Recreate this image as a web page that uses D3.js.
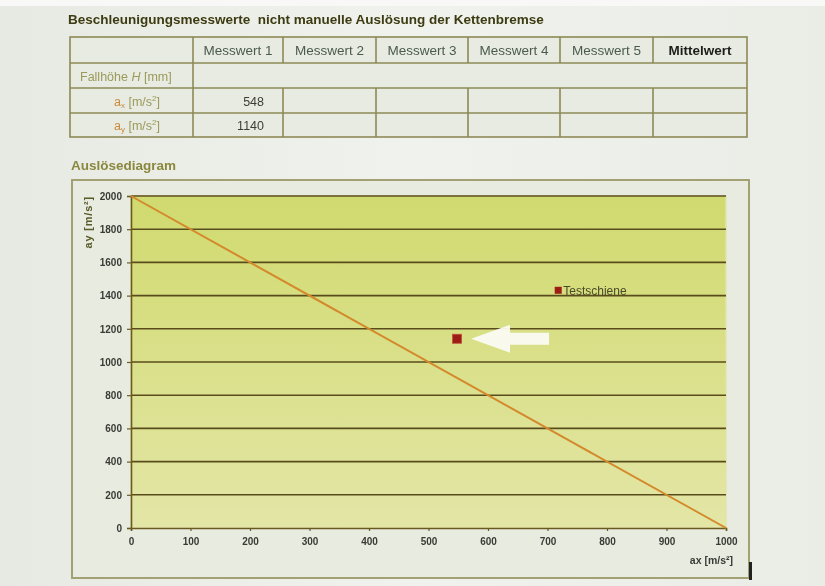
<!DOCTYPE html>
<html><head><meta charset="utf-8">
<script src="https://cdn.jsdelivr.net/npm/d3@7/dist/d3.min.js"></script>
<style>
html,body{margin:0;padding:0;background:#eef0ea;}
svg{display:block;font-family:"Liberation Sans",Arial,sans-serif;}
</style></head><body>
<script>
// ---- data ----
const pageTitle = "Beschleunigungsmesswerte  nicht manuelle Auslösung der Kettenbremse";
const chartTitle = "Auslösediagram";
const tableColumns = ["Messwert 1","Messwert 2","Messwert 3","Messwert 4","Messwert 5","Mittelwert"];
const rowLabels = ["Fallhöhe H [mm]","ax [m/s²]","ay [m/s²]"];
const axValues = [548, null, null, null, null, null];
const ayValues = [1140, null, null, null, null, null];
const xTicks = [0,100,200,300,400,500,600,700,800,900,1000];
const yTicks = [0,200,400,600,800,1000,1200,1400,1600,1800,2000];
const limitX = [0, 1000];
const limitY = [2000, 0];
const pointX = [548];
const pointY = [1140];
const seriesName = "Testschiene";
const legendX = [718];
const legendY = [1432];
const xTitle = "ax [m/s²]";
const yTitle = "ay [m/s²]";

const W = 825, H = 586;
const svg = d3.select("body").append("svg").attr("width", W).attr("height", H);

const defs = svg.append("defs");
const pg = defs.append("linearGradient").attr("id","plotbg").attr("x1",0).attr("y1",0).attr("x2",0).attr("y2",1);
pg.append("stop").attr("offset","0%").attr("stop-color","#d0da6e");
pg.append("stop").attr("offset","100%").attr("stop-color","#e3e6a6");
const bg = defs.append("linearGradient").attr("id","pagebg").attr("x1",0).attr("y1",0).attr("x2",1).attr("y2",0);
bg.append("stop").attr("offset","0%").attr("stop-color","#e7eae2");
bg.append("stop").attr("offset","50%").attr("stop-color","#f0f2ed");
bg.append("stop").attr("offset","100%").attr("stop-color","#eaede6");
const blur = defs.append("filter").attr("id","soft");
blur.append("feGaussianBlur").attr("stdDeviation",0.4);

svg.append("rect").attr("width",W).attr("height",H).attr("fill","url(#pagebg)");
svg.append("rect").attr("width",W).attr("height",6).attr("fill","#f8f9f6");

// ---- title ----
svg.append("text").attr("x",68).attr("y",24).attr("font-size",13.5).attr("font-weight","bold")
  .attr("fill","#3d3b12").attr("filter","url(#soft)").attr("xml:space","preserve").text(pageTitle);

// ---- table ----
const colEdges = [70,193,283,376,468,560,653,747];
const rowEdges = [37,63,88,113,137];
const tbl = svg.append("g").attr("filter","url(#soft)");
tbl.append("rect").attr("x",colEdges[0]).attr("y",rowEdges[0])
  .attr("width",colEdges[7]-colEdges[0]).attr("height",rowEdges[4]-rowEdges[0])
  .attr("fill","#e8ebe1").attr("stroke","#8c8a55").attr("stroke-width",1.6);
rowEdges.slice(1,4).forEach(y=>{
  tbl.append("line").attr("x1",colEdges[0]).attr("x2",colEdges[7]).attr("y1",y).attr("y2",y)
    .attr("stroke","#8c8a55").attr("stroke-width",1.6);
});
colEdges.slice(1,7).forEach((x,i)=>{
  if(i===0){
    tbl.append("line").attr("x1",x).attr("x2",x).attr("y1",rowEdges[0]).attr("y2",rowEdges[4])
      .attr("stroke","#8c8a55").attr("stroke-width",1.6);
  } else {
    tbl.append("line").attr("x1",x).attr("x2",x).attr("y1",rowEdges[0]).attr("y2",rowEdges[1])
      .attr("stroke","#8c8a55").attr("stroke-width",1.6);
    tbl.append("line").attr("x1",x).attr("x2",x).attr("y1",rowEdges[2]).attr("y2",rowEdges[4])
      .attr("stroke","#8c8a55").attr("stroke-width",1.6);
  }
});
tableColumns.forEach((c,i)=>{
  const cx = (colEdges[i+1]+colEdges[i+2])/2;
  tbl.append("text").attr("x",cx).attr("y",(rowEdges[0]+rowEdges[1])/2+5)
    .attr("text-anchor","middle").attr("font-size",13.5)
    .attr("font-weight", i===5 ? "bold" : "normal")
    .attr("fill", i===5 ? "#1e1e1a" : "#4b5a50").text(c);
});
// row labels
const rl1 = tbl.append("text").attr("x",80).attr("y",(rowEdges[1]+rowEdges[2])/2+5)
  .attr("font-size",12.5).attr("fill","#9c9a5c");
rl1.append("tspan").text("Fallhöhe ");
rl1.append("tspan").attr("font-style","italic").text("H");
rl1.append("tspan").text(" [mm]");
[["x",2],["y",3]].forEach(([sub,r])=>{
  const t = tbl.append("text").attr("x",137).attr("y",(rowEdges[r]+rowEdges[r+1])/2+5)
    .attr("text-anchor","middle").attr("font-size",12.5).attr("fill","#9c9a5c");
  t.append("tspan").attr("fill","#c98a3c").text("a");
  t.append("tspan").attr("font-size",8).attr("dy",2).attr("fill","#c98a3c").text(sub);
  t.append("tspan").attr("dy",-2).text(" [m/s");
  t.append("tspan").attr("font-size",8).attr("dy",-5).text("2");
  t.append("tspan").attr("dy",5).text("]");
});
[axValues, ayValues].forEach((vals,r)=>{
  vals.forEach((v,i)=>{
    if(v==null) return;
    tbl.append("text").attr("x",colEdges[i+2]-19).attr("y",(rowEdges[r+2]+rowEdges[r+3])/2+5)
      .attr("text-anchor","end").attr("font-size",12.5).attr("fill","#3e3e36").text(v);
  });
});

// ---- chart title ----
svg.append("text").attr("x",71).attr("y",170).attr("font-size",13.5).attr("font-weight","bold")
  .attr("fill","#8a883e").attr("filter","url(#soft)").text(chartTitle);

// ---- chart frame ----
svg.append("rect").attr("x",72).attr("y",180).attr("width",677).attr("height",398)
  .attr("fill","#e8ece0").attr("stroke","#a3a074").attr("stroke-width",2);
svg.append("rect").attr("x",749).attr("y",562).attr("width",3).attr("height",18).attr("fill","#222");

// ---- plot ----
const pl = {x0:131, x1:726, y0:196, y1:528};
const x = d3.scaleLinear().domain([0,1000]).range([pl.x0,pl.x1]);
const y = d3.scaleLinear().domain([0,2000]).range([pl.y1,pl.y0]);

const g = svg.append("g").attr("filter","url(#soft)");
g.append("rect").attr("x",pl.x0).attr("y",pl.y0).attr("width",pl.x1-pl.x0).attr("height",pl.y1-pl.y0)
  .attr("fill","url(#plotbg)").attr("stroke","#e4e3a6").attr("stroke-width",1.5);

// gridlines
g.selectAll("line.grid").data(yTicks.filter(d=>d>0)).join("line").attr("class","grid")
  .attr("x1",pl.x0).attr("x2",pl.x1).attr("y1",d=>y(d)).attr("y2",d=>y(d))
  .attr("stroke","#5a4c1c").attr("stroke-width",1.6);

// axes
const yAxis = d3.axisLeft(y).tickValues(yTicks).tickSize(4).tickPadding(5).tickFormat(d3.format("d"));
const ya = g.append("g").attr("transform",`translate(${pl.x0},0)`).call(yAxis);
const xAxis = d3.axisBottom(x).tickValues(xTicks).tickSize(3).tickPadding(7).tickFormat(d3.format("d"));
const xa = g.append("g").attr("transform",`translate(0,${pl.y1})`).call(xAxis);
[ya,xa].forEach(a=>{
  a.select(".domain").attr("stroke","#6a5a22").attr("stroke-width",1.6);
  a.selectAll(".tick line").attr("stroke","#6a5a22").attr("stroke-width",1.2);
  a.selectAll(".tick text").attr("font-size",10).attr("font-weight","bold").attr("fill","#3a3a36")
    .attr("font-family","'Liberation Sans',Arial,sans-serif");
});

// limit line
const line = d3.line().x((d,i)=>x(limitX[i])).y((d,i)=>y(limitY[i]));
g.append("path").datum(limitX).attr("d",line).attr("fill","none")
  .attr("stroke","#d4892c").attr("stroke-width",2);

// measurement point
g.selectAll("rect.pt").data(pointX).join("rect").attr("class","pt")
  .attr("x",(d)=>x(d)-4.5).attr("y",(d,i)=>y(pointY[i])-4.5).attr("width",9).attr("height",9)
  .attr("fill","#9e1c12").attr("stroke","#c0503a").attr("stroke-width",0.8);

// legend (inside plot)
const lgx = x(legendX[0]), lgy = y(legendY[0]);
g.append("rect").attr("x",lgx-3.5).attr("y",lgy-3.5).attr("width",7).attr("height",7)
  .attr("fill","#9e1c12");
g.append("text").attr("x",lgx+5).attr("y",lgy+4.5).attr("font-size",12).attr("fill","#4a4a28").text(seriesName);

// white arrow annotation pointing at the point
const ax0 = x(pointX[0])+14, ay0 = y(pointY[0]);
const arrow = [[ax0,ay0],[ax0+39,ay0-14],[ax0+39,ay0-6],[ax0+78,ay0-6],[ax0+78,ay0+6],[ax0+39,ay0+6],[ax0+39,ay0+14]];
g.append("path").attr("d",d3.line()(arrow)+"Z").attr("fill","#fbfbf2").attr("opacity",0.95);

// axis titles
g.append("text").attr("x",733).attr("y",564).attr("text-anchor","end").attr("font-size",10.5)
  .attr("font-weight","bold").attr("fill","#3a3a36").text(xTitle);
g.append("text").attr("transform","translate(92,196) rotate(-90)").attr("text-anchor","end")
  .attr("font-size",11).attr("font-weight","bold").attr("letter-spacing",0.8).attr("fill","#5a5a2a").text(yTitle);
</script>
</body></html>
